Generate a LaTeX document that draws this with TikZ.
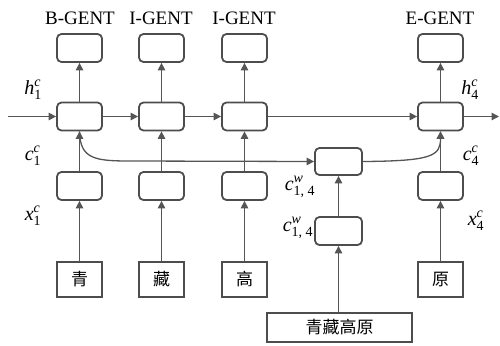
\documentclass[tikz,border=0pt]{standalone}
\usepackage{amsmath}
\usepackage{fontspec}
\setmainfont{Liberation Serif}
\newfontfamily\cjk{Noto Sans CJK SC}
\usetikzlibrary{arrows.meta}
\definecolor{boxgray}{HTML}{4D4D4D}
\definecolor{linegray}{HTML}{555555}
\newcommand{\vlab}[3]{\textit{#1}$_{\text{#2}}^{\textit{#3}}$}
\begin{document}
\begin{tikzpicture}[x=1pt,y=-1pt,
  cell/.style={draw=boxgray, line width=1.8pt, rounded corners=4.5pt, minimum width=45pt, minimum height=28pt, inner sep=0pt},
  charbox/.style={draw=boxgray, line width=1.8pt, minimum width=45pt, minimum height=35pt, inner sep=0pt, font=\cjk\fontsize{17}{17}\selectfont},
  arr/.style={draw=linegray, line width=1.3pt, -{Triangle[length=7.5pt,width=7.5pt]}},
  tag/.style={font=\fontsize{19}{21}\selectfont, inner sep=0pt},
  lab/.style={font=\fontsize{20}{22}\selectfont, inner sep=0pt}]
\useasboundingbox (0,0) rectangle (500,345);
% top output boxes
\node[cell] (o1) at (79.5,48) {};
\node[cell] (o2) at (161.5,48) {};
\node[cell] (o3) at (244.5,48) {};
\node[cell] (o4) at (440.5,48) {};
% tags
\node[tag] (t1) at (80,18) {B-GENT};
\node[tag] (t2) at (161,18) {I-GENT};
\node[tag] (t3) at (244,18) {I-GENT};
\node[tag] (t4) at (440,18) {E-GENT};
% LSTM cells
\node[cell] (c1) at (79.5,116.5) {};
\node[cell] (c2) at (161.5,116.5) {};
\node[cell] (c3) at (244.5,116.5) {};
\node[cell] (c4) at (440.5,116.5) {};
% input cells
\node[cell] (e1) at (79.5,186) {};
\node[cell] (e2) at (161.5,186) {};
\node[cell] (e3) at (244.5,186) {};
\node[cell] (e4) at (440.5,186) {};
% char boxes
\node[charbox] (ch1) at (79.5,279.5) {青};
\node[charbox] (ch2) at (161.5,279.5) {藏};
\node[charbox] (ch3) at (244.5,279.5) {高};
\node[charbox] (ch4) at (440.5,279.5) {原};
% word path
\node[cell, minimum width=47pt, minimum height=27pt] (w1) at (338.5,161.5) {};
\node[cell, minimum width=47pt, minimum height=28pt] (w2) at (338.5,231) {};
\node[charbox, minimum width=145pt, minimum height=29pt] (wb) at (339.5,327.5) {青藏高原};
% coordinates for free ends
\coordinate (in) at (8,116.5);
\coordinate (out) at (499,116.5);
% horizontal arrows
\draw[arr] (in) -- (c1);
\draw[arr] (c1) -- (c2);
\draw[arr] (c2) -- (c3);
\draw[arr] (c3) -- (c4);
\draw[arr] (c4) -- (out);
% vertical arrows
\foreach \i in {1,2,3,4}{
  \draw[arr] (ch\i) -- (e\i);
  \draw[arr] (e\i) -- (c\i);
  \draw[arr] (c\i) -- (o\i);
}
\draw[arr] (wb.north -| w2) -- (w2);
\draw[arr] (w2) -- (w1);
% curves
\draw[arr] (c1.south) .. controls (80,159) and (95,161) .. (130,161) -- (w1.west);
\draw[arr] (w1.east) .. controls (432,161) and (440.5,156) .. (c4.south);
% labels
\node[lab] (lh1) at (33,90) {\vlab{h}{1}{c}};
\node[lab] (lc1) at (33,156) {\vlab{c}{1}{c}};
\node[lab] (lx1) at (33,216) {\vlab{x}{1}{c}};
\node[lab] (lh4) at (470,90) {\vlab{h}{4}{c}};
\node[lab] (lc4) at (471,156) {\vlab{c}{4}{c}};
\node[lab] (lx4) at (476,221) {\vlab{x}{4}{c}};
\node[lab] (lw1) at (300,187) {\vlab{c}{1, 4}{w}};
\node[lab] (lw2) at (298,228) {\vlab{c}{1, 4}{w}};
\end{tikzpicture}
\end{document}
